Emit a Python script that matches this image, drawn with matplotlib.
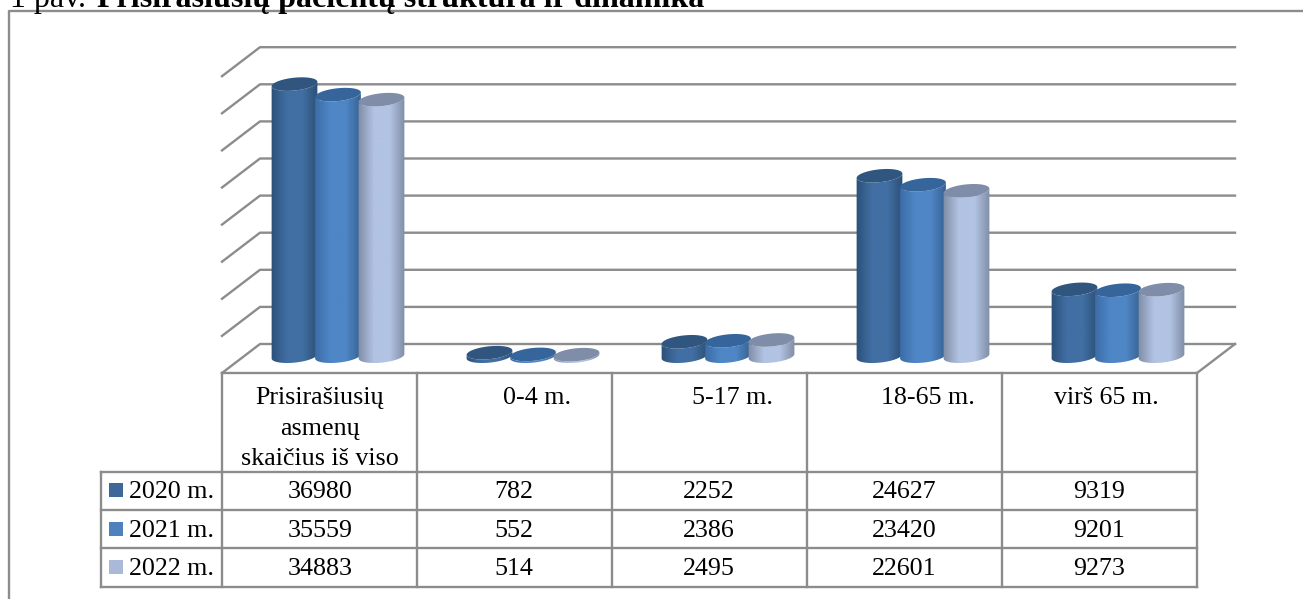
import numpy as np
import matplotlib
matplotlib.use('Agg')
import matplotlib.pyplot as plt
from matplotlib.colors import LinearSegmentedColormap
from matplotlib.patches import Polygon, Rectangle

W, H = 1303, 599

categories = ['Prisirašiusių\nasmenų\nskaičius iš viso', '0-4 m.', '5-17 m.', '18-65 m.', 'virš 65 m.']
series_names = ['2020 m.', '2021 m.', '2022 m.']
v2020 = [36980, 782, 2252, 24627, 9319]
v2021 = [35559, 552, 2386, 23420, 9201]
v2022 = [34883, 514, 2495, 22601, 9273]
grid_values = [0, 5000, 10000, 15000, 20000, 25000, 30000, 35000, 40000]

# geometry in pixels of the picture
X0 = 338        # centre of first group
DX = 195        # group spacing
Y0 = 358.5      # pixel of value 0 in the bar plane
PX_PER_UNIT = 37.1 / 5000
BAR_STEP = 43.5
RX, RY = 23.0, 6.4
TILT = np.deg2rad(6.0)
BASE_Y = 356.2
WALL_Y0 = 344
DEPTH_X, DEPTH_Y = 38, 29
GRID = '#8c8c8c'

colors = [
    {'edge': '#2b5079', 'mid': '#416fa3', 'right': '#2b4c72', 'top': '#30567f', 'swatch': '#3f6797'},
    {'edge': '#3a6ba4', 'mid': '#4f86c6', 'right': '#35608f', 'top': '#36659b', 'swatch': '#4f81bd'},
    {'edge': '#7f8ca5', 'mid': '#b2c3e3', 'right': '#7c89a1', 'top': '#7f8da9', 'swatch': '#aab9d8'},
]

fig = plt.figure(figsize=(W / 100, H / 100), dpi=100)
fig.patch.set_facecolor('white')
plt.rcParams['font.family'] = ['Liberation Serif', 'DejaVu Serif']

# data axes over the whole figure: x is the category index, y the value
ax = fig.add_axes([0, 0, 1, 1])
xlim = ((0 - X0) / DX, (W - X0) / DX)
ylim = ((Y0 - H) / PX_PER_UNIT, Y0 / PX_PER_UNIT)
ax.set_axis_off()


def px_x(x):
    return (np.asarray(x, dtype=float) - X0) / DX


def px_y(y):
    return (Y0 - np.asarray(y, dtype=float)) / PX_PER_UNIT


def line(xs, ys, lw=1.7, color=GRID):
    ax.plot(px_x(xs), px_y(ys), color=color, lw=lw, solid_capstyle='projecting', zorder=1)


# walls
for v in grid_values:
    y = WALL_Y0 - v * PX_PER_UNIT
    line([222, 260, 1235], [y + DEPTH_Y, y, y])
line([1235, 1197], [WALL_Y0, WALL_Y0 + DEPTH_Y])

# picture frame, left and top only
line([9, 9, W], [H, 11, 11])

# table
line([222, 1197], [373, 373])
for x in [222, 417, 612, 807, 1002, 1197]:
    line([x, x], [373, 587])
for y in [472, 510, 548, 587]:
    line([101, 1197], [y, y])
line([101, 101], [472, 587])


def ellipse(cx, cy, t):
    dx = RX * np.cos(t)
    dy = RY * np.sin(t)
    # screen y goes down, right end is higher
    return cx + dx * np.cos(TILT) + dy * np.sin(TILT), cy - dx * np.sin(TILT) + dy * np.cos(TILT)


def cylinder(cx, value, c, z):
    top_y = Y0 - value * PX_PER_UNIT
    t_top = np.linspace(0, 2 * np.pi, 80)
    tx, ty = ellipse(cx, top_y, t_top)
    t_low = np.linspace(0, np.pi, 50)
    bx, by = ellipse(cx, BASE_Y, t_low)
    ux, uy = ellipse(cx, top_y, t_low[::-1])
    body = np.column_stack([px_x(np.r_[bx, ux]), px_y(np.r_[by, uy])])

    cmap = LinearSegmentedColormap.from_list(
        'c', [c['edge'], c['mid'], c['mid'], c['right']])
    grad = np.linspace(0, 1, 128).reshape(1, -1)
    lo, hi = cx - RX - 1, cx + RX + 1
    im = ax.imshow(grad, cmap=cmap, aspect='auto', zorder=z, interpolation='bilinear',
                   extent=(px_x(lo), px_x(hi), px_y(BASE_Y + RY + 6), px_y(top_y - RY - 6)))
    clip = Polygon(body, closed=True, transform=ax.transData, facecolor='none', edgecolor='none')
    ax.add_patch(clip)
    im.set_clip_path(clip)
    ax.add_patch(Polygon(np.column_stack([px_x(tx), px_y(ty)]), closed=True,
                         facecolor=c['top'], edgecolor='none', zorder=z + 0.1))


z = 3
for i in range(len(categories)):
    for s, vals in enumerate([v2020, v2021, v2022]):
        cylinder(X0 + i * DX + (s - 1) * BAR_STEP, vals[i], colors[s], z)
        z += 1

ax.set_xlim(xlim)
ax.set_ylim(ylim)

FS = 18.7


def label(x, y, s, ha='center', **kw):
    ax.text(px_x(x), px_y(y), s, ha=ha, va='baseline', fontsize=kw.pop('fontsize', FS),
            color='black', zorder=100, **kw)


# category header row
for line_txt, y in zip(categories[0].split('\n'), [404, 434.7, 465]):
    label(320, y, line_txt)
for s, x in zip(categories[1:], [537, 733, 928, 1106]):
    label(x, 404, s)

# table values
col_centres = [320, 514, 709, 904, 1099]
rows_y = [498, 537, 575]
for s, vals in enumerate([v2020, v2021, v2022]):
    label(129, rows_y[s], series_names[s], ha='left')
    for x, v in zip(col_centres, vals):
        label(x, rows_y[s], str(v))
    ax.add_patch(Rectangle((px_x(109), px_y(rows_y[s] - 1)), 14 / DX, 14 / PX_PER_UNIT,
                           facecolor=colors[s]['swatch'], edgecolor='none', zorder=50))

# caption, cut off by the top of the page
label(10, 7, '1 pav. ', ha='left', fontsize=23)
label(97, 7, 'Prisirašiusių pacientų struktūra ir dinamika', ha='left', fontsize=23, fontweight='bold')

fig.savefig('out.png', dpi=100)
